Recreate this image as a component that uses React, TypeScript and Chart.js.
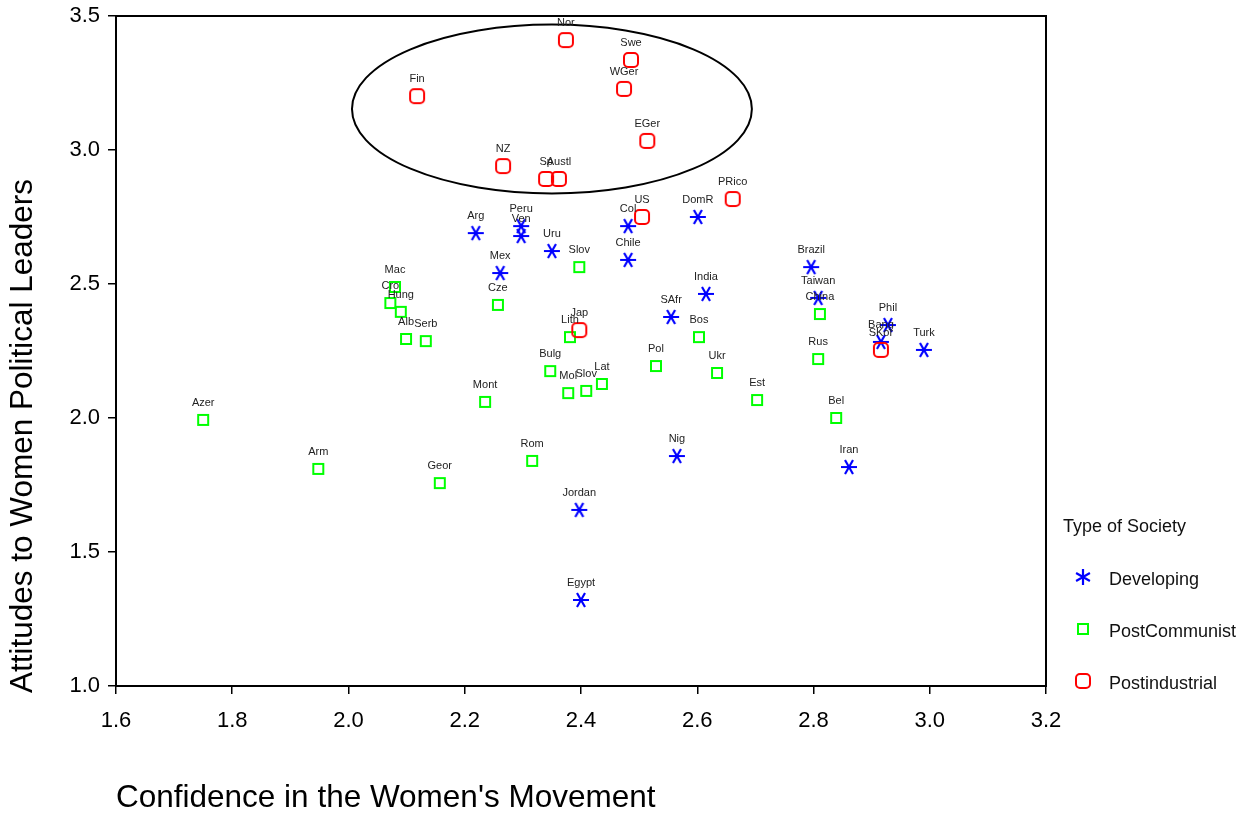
import { useEffect, useRef } from 'react';
import { Chart, registerables } from 'chart.js';

Chart.register(...registerables);

// ---- Data ----
const developingNames = ['Arg', 'Peru', 'Ven', 'Uru', 'Mex', 'Col', 'Chile', 'DomR', 'India', 'SAfr', 'Brazil', 'Taiwan', 'Phil', 'Bang', 'Turk', 'Iran', 'Nig', 'Jordan', 'Egypt'];
const developingX = [2.219, 2.297, 2.297, 2.350, 2.261, 2.481, 2.481, 2.601, 2.615, 2.555, 2.796, 2.808, 2.928, 2.916, 2.990, 2.861, 2.565, 2.397, 2.400];
const developingY = [2.690, 2.716, 2.679, 2.623, 2.541, 2.716, 2.590, 2.750, 2.463, 2.377, 2.563, 2.448, 2.347, 2.284, 2.254, 1.817, 1.858, 1.657, 1.321];

const postCommunistNames = ['Azer', 'Arm', 'Geor', 'Rom', 'Mont', 'Bulg', 'Mol', 'Slov', 'Lat', 'Lith', 'Slov', 'Cze', 'Mac', 'Cro', 'Hung', 'Alb', 'Serb', 'Pol', 'Bos', 'Ukr', 'Est', 'Rus', 'Bel', 'China'];
const postCommunistX = [1.750, 1.948, 2.157, 2.316, 2.235, 2.347, 2.378, 2.409, 2.436, 2.381, 2.397, 2.257, 2.080, 2.072, 2.090, 2.099, 2.133, 2.529, 2.603, 2.634, 2.703, 2.808, 2.839, 2.811];
const postCommunistY = [1.993, 1.810, 1.757, 1.840, 2.060, 2.175, 2.093, 2.101, 2.127, 2.302, 2.563, 2.422, 2.489, 2.429, 2.396, 2.295, 2.287, 2.194, 2.302, 2.168, 2.067, 2.220, 2.000, 2.388];

const postIndustrialNames = ['Nor', 'Swe', 'WGer', 'Fin', 'EGer', 'NZ', 'Sp', 'Austl', 'US', 'PRico', 'Jap', 'SKor'];
const postIndustrialX = [2.374, 2.486, 2.474, 2.118, 2.514, 2.266, 2.340, 2.362, 2.505, 2.661, 2.397, 2.916];
const postIndustrialY = [3.410, 3.336, 3.228, 3.201, 3.034, 2.940, 2.892, 2.892, 2.750, 2.817, 2.328, 2.254];

const seriesNames = ['Developing', 'PostCommunist', 'Postindustrial'];
const xTitle = 'Confidence in the Women\'s Movement';
const yTitle = 'Attitudes to Women Political Leaders';
const legendTitle = 'Type of Society';

// Ellipse highlighting the postindustrial cluster (data units)
const ellipseCenter = [2.350, 3.153];
const ellipseRadii = [0.344, 0.315];

const FONT = 'Arial, "Liberation Sans", sans-serif';

function makeStar(vertical: boolean) {
  const c = document.createElement('canvas');
  c.width = 20; c.height = 20;
  const ctx = c.getContext('2d')!;
  ctx.strokeStyle = '#0000ff';
  ctx.lineWidth = 2.2;
  const r = 8;
  const angles = vertical ? [90, 30, 150] : [0, 60, 120];
  ctx.beginPath();
  for (const a of angles) {
    const rad = (a * Math.PI) / 180;
    ctx.moveTo(10 - r * Math.cos(rad), 10 - r * Math.sin(rad));
    ctx.lineTo(10 + r * Math.cos(rad), 10 + r * Math.sin(rad));
  }
  ctx.stroke();
  return c;
}

function makeSquare() {
  const c = document.createElement('canvas');
  c.width = 14; c.height = 14;
  const ctx = c.getContext('2d')!;
  ctx.strokeStyle = '#00ff00';
  ctx.lineWidth = 2;
  ctx.strokeRect(2, 2, 10, 10);
  return c;
}

function makeRounded() {
  const c = document.createElement('canvas');
  c.width = 18; c.height = 18;
  const ctx = c.getContext('2d')!;
  ctx.strokeStyle = '#ff0000';
  ctx.lineWidth = 2;
  ctx.beginPath();
  (ctx as any).roundRect(2, 2, 14, 14, 4);
  ctx.stroke();
  return c;
}

export default function App() {
  const ref = useRef<HTMLCanvasElement | null>(null);

  useEffect(() => {
    const canvas = ref.current;
    if (!canvas) return;
    const starImg = makeStar(false);
    const starLegend = makeStar(true);
    const squareImg = makeSquare();
    const roundImg = makeRounded();

    const toPts = (xs: number[], ys: number[]) => xs.map((x, i) => ({ x, y: ys[i] }));

    const decor = {
      id: 'decor',
      beforeDatasetsDraw(chart: any) {
        const { ctx, chartArea, scales } = chart;
        const xs = scales.x, ys = scales.y;
        const cx = xs.getPixelForValue(ellipseCenter[0]);
        const cy = ys.getPixelForValue(ellipseCenter[1]);
        const rx = Math.abs(xs.getPixelForValue(ellipseCenter[0] + ellipseRadii[0]) - cx);
        const ry = Math.abs(ys.getPixelForValue(ellipseCenter[1] + ellipseRadii[1]) - cy);
        ctx.save();
        ctx.strokeStyle = '#000';
        ctx.lineWidth = 2;
        ctx.beginPath();
        ctx.ellipse(cx, cy, rx, ry, 0, 0, Math.PI * 2);
        ctx.stroke();
        ctx.restore();
        ctx.save();
        ctx.strokeStyle = '#000';
        ctx.lineWidth = 2;
        ctx.strokeRect(chartArea.left, chartArea.top, chartArea.right - chartArea.left, chartArea.bottom - chartArea.top);
        ctx.restore();
      },
      afterDatasetsDraw(chart: any) {
        const { ctx, chartArea } = chart;
        ctx.save();
        ctx.font = `11px ${FONT}`;
        ctx.fillStyle = '#222';
        ctx.textAlign = 'center';
        ctx.textBaseline = 'middle';
        chart.data.datasets.forEach((ds: any, di: number) => {
          const meta = chart.getDatasetMeta(di);
          meta.data.forEach((pt: any, i: number) => {
            ctx.fillText(ds.names[i], pt.x, pt.y - 17);
          });
        });
        ctx.restore();

        ctx.save();
        ctx.fillStyle = '#000';
        ctx.font = `31.5px ${FONT}`;
        ctx.textAlign = 'left';
        ctx.textBaseline = 'middle';
        ctx.fillText(xTitle, chartArea.left, 798);
        ctx.translate(23, 436);
        ctx.rotate(-Math.PI / 2);
        ctx.textAlign = 'center';
        ctx.fillText(yTitle, 0, 0);
        ctx.restore();

        ctx.save();
        ctx.fillStyle = '#111';
        ctx.font = `18px ${FONT}`;
        ctx.textAlign = 'left';
        ctx.textBaseline = 'middle';
        ctx.fillText(legendTitle, 1063, 527);
        const imgs = [starLegend, squareImg, roundImg];
        const ys = [580, 632, 684];
        imgs.forEach((img, i) => {
          ctx.drawImage(img, 1083 - img.width / 2, ys[i] - 3 - img.height / 2);
          ctx.fillText(seriesNames[i], 1109, ys[i]);
        });
        ctx.restore();
      },
    };

    const chart = new Chart(canvas, {
      type: 'scatter',
      data: {
        datasets: [
          {
            label: seriesNames[2],
            names: postIndustrialNames,
            data: toPts(postIndustrialX, postIndustrialY),
            pointStyle: roundImg,
            order: 0,
          } as any,
          {
            label: seriesNames[1],
            names: postCommunistNames,
            data: toPts(postCommunistX, postCommunistY),
            pointStyle: squareImg,
            order: 1,
          } as any,
          {
            label: seriesNames[0],
            names: developingNames,
            data: toPts(developingX, developingY),
            pointStyle: starImg,
            order: 2,
          } as any,
        ],
      },
      options: {
        responsive: false,
        animation: false,
        layout: { padding: { top: 16, right: 211, left: 0, bottom: 0 } },
        plugins: { legend: { display: false }, tooltip: { enabled: false } },
        scales: {
          x: {
            type: 'linear',
            min: 1.6,
            max: 3.2,
            afterFit: (s: any) => { s.height = 130; s.paddingLeft = 0; s.paddingRight = 0; },
            border: { display: false },
            grid: { display: true, drawOnChartArea: false, drawTicks: true, tickLength: 8, color: '#000', lineWidth: 1.5 },
            ticks: {
              stepSize: 0.2,
              padding: 14,
              color: '#000',
              font: { size: 22, family: FONT },
              maxRotation: 0,
              callback: (v: any) => Number(v).toFixed(1),
            },
          },
          y: {
            type: 'linear',
            min: 1.0,
            max: 3.5,
            afterFit: (s: any) => { s.width = 116; s.paddingTop = 0; s.paddingBottom = 0; },
            border: { display: false },
            grid: { display: true, drawOnChartArea: false, drawTicks: true, tickLength: 8, color: '#000', lineWidth: 1.5 },
            ticks: {
              stepSize: 0.5,
              padding: 8,
              color: '#000',
              font: { size: 22, family: FONT },
              callback: (v: any) => Number(v).toFixed(1),
            },
          },
        },
      } as any,
      plugins: [decor],
    });
    return () => chart.destroy();
  }, []);

  return (
    <div style={{ position: 'absolute', left: 0, top: 0, width: 1257, height: 816, background: '#fff' }}>
      <canvas ref={ref} width={1257} height={816} style={{ display: 'block' }} />
    </div>
  );
}
